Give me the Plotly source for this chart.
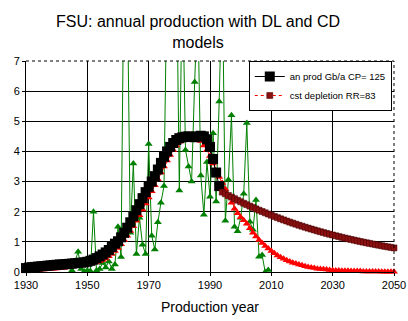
import plotly.graph_objects as go

# ---- data ----
prod_years = list(range(1930, 1994))
prod_values = [0.13, 0.15, 0.16, 0.17, 0.18, 0.19, 0.20, 0.21, 0.22, 0.23,
               0.24, 0.25, 0.25, 0.26, 0.27, 0.28, 0.29, 0.30, 0.31, 0.32,
               0.34, 0.37, 0.41, 0.46, 0.52, 0.58, 0.65, 0.73, 0.83, 0.94,
               1.02, 1.15, 1.30, 1.47, 1.65, 1.85, 2.05, 2.25, 2.45, 2.65,
               2.83, 3.00, 3.18, 3.40, 3.62, 3.82, 4.00, 4.15, 4.28, 4.38,
               4.44, 4.47, 4.49, 4.50, 4.48, 4.47, 4.50, 4.52, 4.50, 4.40,
               4.15, 3.75, 3.30, 2.85]

dl_years = list(range(1930, 2051))
dl_values = [0.05, 0.05, 0.06, 0.06, 0.07, 0.08, 0.08, 0.09, 0.10, 0.11,
             0.12, 0.13, 0.14, 0.15, 0.16, 0.18, 0.19, 0.21, 0.23, 0.25,
             0.27, 0.29, 0.31, 0.33, 0.36, 0.40, 0.45, 0.52, 0.60, 0.70,
             0.80, 0.92, 1.06, 1.20, 1.36, 1.52, 1.70, 1.88, 2.07, 2.27,
             2.47, 2.68, 2.88, 3.08, 3.30, 3.50, 3.70, 3.88, 4.05, 4.20,
             4.32, 4.42, 4.50, 4.55, 4.55, 4.50, 4.45, 4.35, 4.20, 4.05,
             3.85, 3.60, 3.35, 3.15, 2.95, 2.75, 2.50, 2.30, 2.10, 1.95,
             1.82, 1.72, 1.60, 1.45, 1.30, 1.18, 1.06, 0.96, 0.86, 0.78,
             0.70, 0.62, 0.55, 0.49, 0.44, 0.39, 0.35, 0.31, 0.28, 0.25,
             0.22, 0.19, 0.17, 0.15, 0.13, 0.11, 0.10, 0.09, 0.08, 0.07,
             0.06, 0.05, 0.05, 0.04, 0.04, 0.04, 0.03, 0.03, 0.03, 0.03,
             0.02, 0.02, 0.02, 0.02, 0.02, 0.02, 0.01, 0.01, 0.01, 0.01,
             0.01]

cd_years = list(range(1994, 2051))
cd_values = [2.650, 2.594, 2.539, 2.485, 2.433, 2.381, 2.331, 2.281, 2.233, 2.186,
             2.140, 2.094, 2.050, 2.007, 1.964, 1.923, 1.882, 1.842, 1.803, 1.765,
             1.728, 1.691, 1.655, 1.620, 1.586, 1.552, 1.520, 1.487, 1.456, 1.425,
             1.395, 1.365, 1.336, 1.308, 1.280, 1.253, 1.227, 1.201, 1.175, 1.150,
             1.126, 1.102, 1.079, 1.056, 1.034, 1.012, 0.990, 0.969, 0.949, 0.929,
             0.909, 0.890, 0.871, 0.852, 0.834, 0.817, 0.799]

green_years = list(range(1945, 2010))
green_values = [0.05, 0.35, 0.67, 0.10, 0.02, 0.05, 0.03, 2.00, 0.05, 0.10,
                0.30, 0.15, 0.35, 0.10, 0.25, 1.50, 0.50, 11.0, 10.0, 1.30,
                3.60, 0.60, 1.80, 0.90, 0.60, 4.25, 1.20, 0.75, 1.65, 2.30,
                2.85, 10.0, 12.0, 9.00, 11.0, 2.70, 10.0, 4.05, 3.50, 3.00,
                6.30, 9.00, 3.20, 1.90, 3.65, 2.50, 4.60, 2.34, 5.66, 10.0,
                1.70, 3.06, 5.20, 1.50, 1.35, 1.80, 2.60, 4.94, 1.67, 1.40,
                2.39, 0.51, 0.56, 0.00, 0.07]

x_ticks = [1930, 1950, 1970, 1990, 2010, 2030, 2050]
y_ticks = [0, 1, 2, 3, 4, 5, 6, 7]

fig = go.Figure()

fig.add_trace(go.Scatter(
    x=green_years, y=green_values, mode="lines+markers", showlegend=False,
    line=dict(color="#008000", width=1),
    marker=dict(symbol="triangle-up", size=7, color="#008000"),
    cliponaxis=True, name="data"))

fig.add_trace(go.Scatter(
    x=dl_years, y=dl_values, mode="lines+markers", showlegend=False,
    line=dict(color="#ff0000", width=1),
    marker=dict(symbol="triangle-up", size=7, color="#ff0000"),
    cliponaxis=False, name="DL model"))

fig.add_trace(go.Scatter(
    x=prod_years, y=prod_values, mode="lines+markers",
    line=dict(color="#000000", width=1),
    marker=dict(symbol="square", size=10, color="#000000"),
    cliponaxis=False, name="an prod Gb/a CP= 125"))

fig.add_trace(go.Scatter(
    x=cd_years, y=cd_values, mode="lines+markers",
    line=dict(color="#ff0000", width=1, dash="dot"),
    marker=dict(symbol="square", size=6, color="#8b1010",
                line=dict(color="#400000", width=0.5)),
    cliponaxis=False, name="cst depletion RR=83"))

# dotted top and right borders
fig.add_shape(type="line", xref="paper", yref="paper", x0=0, x1=1, y0=1, y1=1,
              line=dict(color="black", width=1, dash="dot"))
fig.add_shape(type="line", xref="paper", yref="paper", x0=1, x1=1, y0=0, y1=1,
              line=dict(color="black", width=1, dash="dot"))

font_family = "Liberation Sans, Arial, sans-serif"

fig.update_layout(
    width=408, height=321, autosize=False,
    margin=dict(l=26, r=14, t=61, b=49),
    paper_bgcolor="white", plot_bgcolor="white",
    font=dict(family=font_family, color="black", size=11),
    title=dict(text="FSU: annual production with DL and CD<br>models",
               x=198/408, xanchor="center", xref="container",
               y=1 - 27/321, yanchor="top", yref="container",
               font=dict(size=16, family=font_family, color="black")),
    showlegend=True,
    legend=dict(x=0.994, y=1.0, xanchor="right", yanchor="top",
                bgcolor="white", bordercolor="black", borderwidth=1,
                font=dict(size=9.5, family=font_family),
                itemwidth=30, tracegroupgap=0),
    xaxis=dict(range=[1930, 2050], tickvals=x_ticks,
               ticktext=[str(v) for v in x_ticks],
               showgrid=True, gridcolor="black", gridwidth=1,
               showline=True, linecolor="black", linewidth=1,
               ticks="outside", ticklen=3, tickcolor="black",
               zeroline=False, automargin=False,
               title=dict(text="Production year", standoff=11,
                          font=dict(size=14, family=font_family))),
    yaxis=dict(range=[0, 7], tickvals=y_ticks,
               showgrid=True, gridcolor="black", gridwidth=1,
               showline=True, linecolor="black", linewidth=1,
               ticks="outside", ticklen=3, tickcolor="black",
               zeroline=False, automargin=False),
)

fig.write_html("out.html")
